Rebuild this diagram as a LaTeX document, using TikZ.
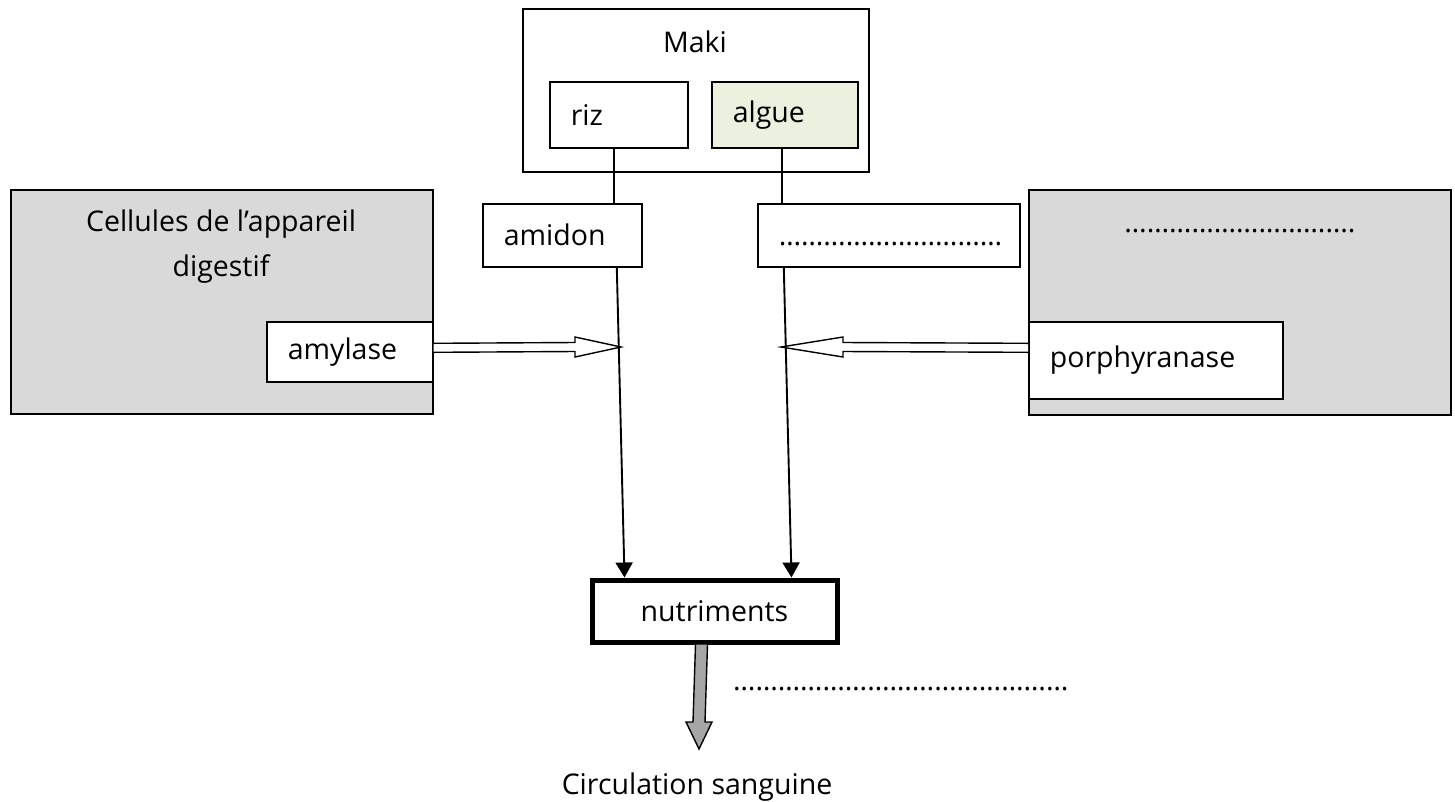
\documentclass[tikz,border=0pt]{standalone}
\usepackage{fontspec}
\setmainfont{Open Sans}
\usetikzlibrary{arrows.meta,calc}
\definecolor{cellgray}{HTML}{D9D9D9}
\definecolor{alguegreen}{HTML}{EBF1DE}
\definecolor{fatgray}{HTML}{A6A6A6}
\tikzset{
  every node/.style={font=\fontsize{28.5}{45}\selectfont, inner sep=0pt},
  frame/.style={draw, line width=1.6pt, anchor=north west, inner sep=0pt},
  graybox/.style={frame, fill=cellgray},
  tbox/.style={frame, fill=white, align=left, inner xsep=21pt, text width=#1},
  conn/.style={line width=1.9pt},
  connarrow/.style={line width=1.9pt, -{Triangle[length=15pt,width=17pt]}},
  hollow/.style={draw, fill=white, line width=1.4pt, line join=miter},
  fat/.style={draw, fill=fatgray, line width=1.4pt, line join=miter}
}
\begin{document}
\begin{tikzpicture}[x=1pt,y=-1pt]
\useasboundingbox (0,0) rectangle (1455,801);

% Maki group
\node[frame, minimum width=346pt, minimum height=163pt] (maki) at (522,8) {};
\node[anchor=base] (makilabel) at (695,52) {Maki};
\node[tbox=96pt, minimum height=66pt] (riz) at (549,81) {riz};
\node[tbox=104pt, minimum height=66pt, fill=alguegreen] (algue) at (711,81) {algue};

% side cells
\node[graybox, minimum width=422pt, minimum height=224pt] (lcell) at (10,189) {};
\node[align=center] (ltxt) at (221,247) {Cellules de l’appareil\\digestif};
\node[tbox=124pt, minimum height=60pt] (amylase) at (266,321) {amylase};

\node[graybox, minimum width=422pt, minimum height=225pt] (rcell) at (1028,189) {};
\node[anchor=base] (rtxt) at (1240,232) {………………………….};
\node[tbox=212pt, minimum height=77pt] (porph) at (1028,321) {porphyranase};

% middle boxes
\node[tbox=117pt, minimum height=63pt] (amidon) at (482,203) {amidon};
\node[tbox=220pt, minimum height=63pt, text height=21pt, text depth=0pt] (dotbox) at (757,203) {…………………………};

\node[draw, line width=5pt, minimum width=245pt, minimum height=62pt, anchor=north west] (nutr) at (589.5,577.5) {nutriments};

% connectors
\draw[conn] ($(riz.south)+(-5,0)$) -- ($(amidon.north)+(51.5,0)$);
\draw[conn] ($(algue.south)+(-3,0)$) -- ($(dotbox.north)+(-107,0)$);
\draw[connarrow] ($(amidon.south)+(54.5,0)$) -- ($(nutr.north)+(-90,0)$);
\draw[connarrow] ($(dotbox.south)+(-105,0)$) -- ($(nutr.north)+(77,0)$);

% hollow enzyme arrows
\coordinate (aL) at (621,347);
\coordinate (aR) at (781,347);
\draw[hollow] ($(amylase.east)+(0,-8.5)$) -- ($(aL)+(-46,-4.5)$) -- ($(aL)+(-46,-10)$) -- (aL)
  -- ($(aL)+(-46,10)$) -- ($(aL)+(-46,4.5)$) -- ($(amylase.east)+(0,0.5)$);
\draw[hollow] ($(porph.west)+(0,-17)$) -- ($(aR)+(62,-4.5)$) -- ($(aR)+(62,-10)$) -- (aR)
  -- ($(aR)+(62,10)$) -- ($(aR)+(62,4.5)$) -- ($(porph.west)+(0,-8)$);

% fat arrow to blood
\coordinate (ftip) at (699,749);
\draw[fat] ($(nutr.south)+(-19,0)$) -- ($(ftip)+(-6,-27)$) -- ($(ftip)+(-13,-27)$) -- (ftip)
  -- ($(ftip)+(13,-27)$) -- ($(ftip)+(6,-27)$) -- ($(nutr.south)+(-7,0)$);

\node[anchor=base west] (dotline) at (733,690) {………………………………………};
\node[anchor=base] (blood) at (697,794) {Circulation sanguine};
\end{tikzpicture}
\end{document}
